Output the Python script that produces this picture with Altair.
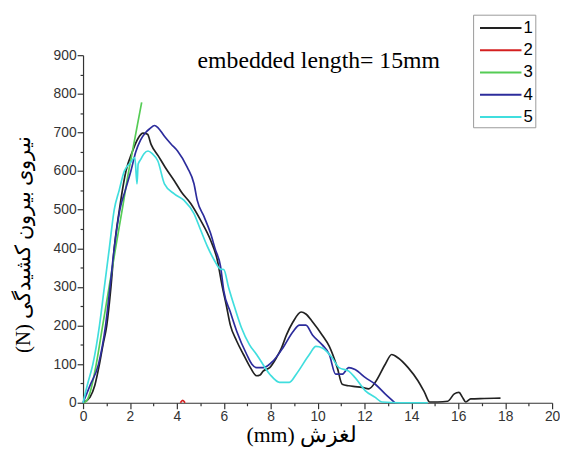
import altair as alt
import pandas as pd

series_names = ["1", "2", "3", "4", "5"]
series_colors = ["#222222", "#d42020", "#55cc55", "#2c2c9c", "#40dede"]

s1_x = [0, 0.3, 0.5, 0.7, 0.85, 1.01, 1.19, 1.33, 1.55, 1.83, 2.1, 2.35, 2.56, 2.75, 2.9, 3.2,
        3.5, 3.89, 4.2, 4.59, 5.01, 5.43, 5.72, 5.93, 6.1, 6.28, 6.55, 6.84, 7.1, 7.4, 7.55, 7.68,
        7.96, 8.24, 8.45, 8.67, 8.95, 9.3, 9.5, 9.79, 10.2, 10.5, 10.84, 11.05, 11.33, 11.6, 11.9,
        12.18, 12.46, 12.88, 13.16, 13.44, 13.86, 14.28, 14.56, 14.78, 15.13, 15.55, 15.83, 16.03,
        16.18, 16.32, 16.53, 17.1, 17.8]
s1_y = [0, 15, 45, 100, 150, 200, 300, 400, 500, 600, 650, 685, 698, 695, 669, 640,
        610, 575, 545, 516, 473, 422, 371, 303, 255, 201, 160, 125, 95, 70, 72, 82,
        91, 116, 140, 175, 209, 235, 230, 209, 175, 146, 91, 48, 44, 42, 40,
        36, 53, 99, 125, 116, 91, 57, 27, 2, 2, 4, 23, 27,
        14, 2, 10, 11, 12]

s2_x = [4.15, 4.25, 4.35]
s2_y = [0, 6, 0]

s3_x = [0, 0.15, 0.28, 0.56, 0.84, 1.12, 1.4, 1.69, 1.9, 2.11, 2.32, 2.5]
s3_y = [0, 5, 23, 99, 201, 303, 405, 507, 584, 652, 720, 778]

s4_x = [0, 0.3, 0.66, 0.96, 1.15, 1.33, 1.57, 1.8, 2.04, 2.25, 2.45, 2.67, 2.85, 3.05, 3.2, 3.47,
        3.75, 4.03, 4.45, 4.73, 4.87, 5.16, 5.43, 5.64, 5.86, 6.0, 6.28, 6.56, 6.98, 7.2, 7.4,
        7.69, 8.1, 8.52, 8.95, 9.23, 9.5, 9.79, 10.2, 10.5, 10.77, 11.05, 11.33, 11.6, 12.04,
        12.46, 12.88, 13.3]
s4_y = [0, 45, 100, 200, 300, 400, 500, 550, 600, 650, 680, 700, 710, 718, 712, 690,
        670, 652, 609, 567, 524, 482, 440, 397, 354, 290, 235, 184, 125, 100, 91,
        91, 108, 142, 184, 201, 201, 175, 150, 125, 74, 74, 91, 86, 65,
        48, 23, 0]

s5_x = [0, 0.2, 0.42, 0.7, 0.91, 1.12, 1.33, 1.54, 1.76, 2.0, 2.21, 2.3, 2.35, 2.46, 2.6, 2.77,
        2.95, 3.19, 3.47, 3.89, 4.31, 4.73, 5.01, 5.3, 5.58, 5.86, 6.0, 6.2, 6.45, 6.75, 7.1,
        7.4, 7.96, 8.38, 8.8, 9.09, 9.65, 9.93, 10.2, 10.63, 10.91, 11.33, 11.6, 12.04, 12.46,
        12.74, 13.5, 14.7]
s5_y = [0, 50, 100, 200, 300, 400, 500, 550, 600, 620, 635, 567, 618, 630, 645, 652,
        645, 626, 567, 541, 524, 490, 448, 405, 371, 346, 345, 300, 250, 195, 150,
        125, 74, 53, 53, 74, 125, 146, 142, 116, 91, 82, 65, 31, 14,
        2, 0, 0]

x_ticks = list(range(0, 21, 1))
y_ticks = list(range(0, 901, 50))
annotation = "embedded length= 15mm"
annotation_x = 10.05
annotation_y = 866
x_title = "(mm) لغزش"
y_title = "(N) نیروی بیرون کشیدگی"

rows = []
for name, xs, ys in zip(series_names, [s1_x, s2_x, s3_x, s4_x, s5_x],
                        [s1_y, s2_y, s3_y, s4_y, s5_y]):
    for i, (xv, yv) in enumerate(zip(xs, ys)):
        rows.append({"series": name, "x": xv, "y": yv, "order": i})
df = pd.DataFrame(rows)

x_enc = alt.X("x:Q", scale=alt.Scale(domain=[0, 20], nice=False),
              axis=alt.Axis(values=x_ticks, title=x_title,
                            labelExpr="datum.value % 2 === 0 ? datum.label : ''",
                            tickSize={"condition": {"test": "datum.value % 2 === 0", "value": 6}, "value": 3},
                            titleFont="Liberation Serif", titleFontSize=22, titleFontWeight="normal",
                            titleColor="#000", titlePadding=1, titleX=221, titleAlign="center"))
y_enc = alt.Y("y:Q", scale=alt.Scale(domain=[0, 900], nice=False),
              axis=alt.Axis(values=y_ticks, title=y_title,
                            labelExpr="datum.value % 100 === 0 ? datum.label : ''",
                            tickSize={"condition": {"test": "datum.value % 100 === 0", "value": 6}, "value": 3},
                            titleFont="Liberation Serif", titleFontSize=21, titleFontWeight="normal",
                            titleColor="#000", titlePadding=20, titleY=191))

pad = "\u00a0\u00a0\u00a0\u00a0"
lines = alt.Chart(df).mark_line(strokeWidth=1.7, interpolate="monotone").encode(
    x=x_enc,
    y=y_enc,
    color=alt.Color("series:N", scale=alt.Scale(domain=series_names, range=series_colors),
                    legend=alt.Legend(orient="none", legendX=395, legendY=-41, title=None,
                                      symbolType="M-0.62,0H3.38", symbolSize=441, symbolStrokeWidth=2,
                                      strokeColor="#999", padding=2, labelFont="Liberation Sans",
                                      labelFontSize=17, labelColor="#000", rowPadding=2.5,
                                      labelOffset=26, labelExpr="datum.label + '" + pad + "'")),
    order="order:Q",
)

text_df = pd.DataFrame({"x": [annotation_x], "y": [annotation_y], "label": [annotation]})
text = alt.Chart(text_df).mark_text(
    font="Liberation Serif", fontSize=24, color="#000", baseline="alphabetic", align="center"
).encode(
    x=x_enc,
    y=y_enc,
    text="label:N",
)

chart = alt.layer(lines, text).properties(
    width=475, height=352,
    autosize=alt.AutoSizeParams(type="none"),
    padding={"left": 76, "top": 45, "right": 8, "bottom": 42},
).configure_view(stroke=None).configure_axis(
    grid=False, domainColor="#333", tickColor="#333", labelColor="#333",
    labelFont="Liberation Sans", labelFontSize=14, labelPadding=1, domainWidth=1.2, tickWidth=1.2,
    labelFlush=False, labelOverlap=False
)

chart.save("out.html", embed_options={"renderer": "svg", "actions": False})
